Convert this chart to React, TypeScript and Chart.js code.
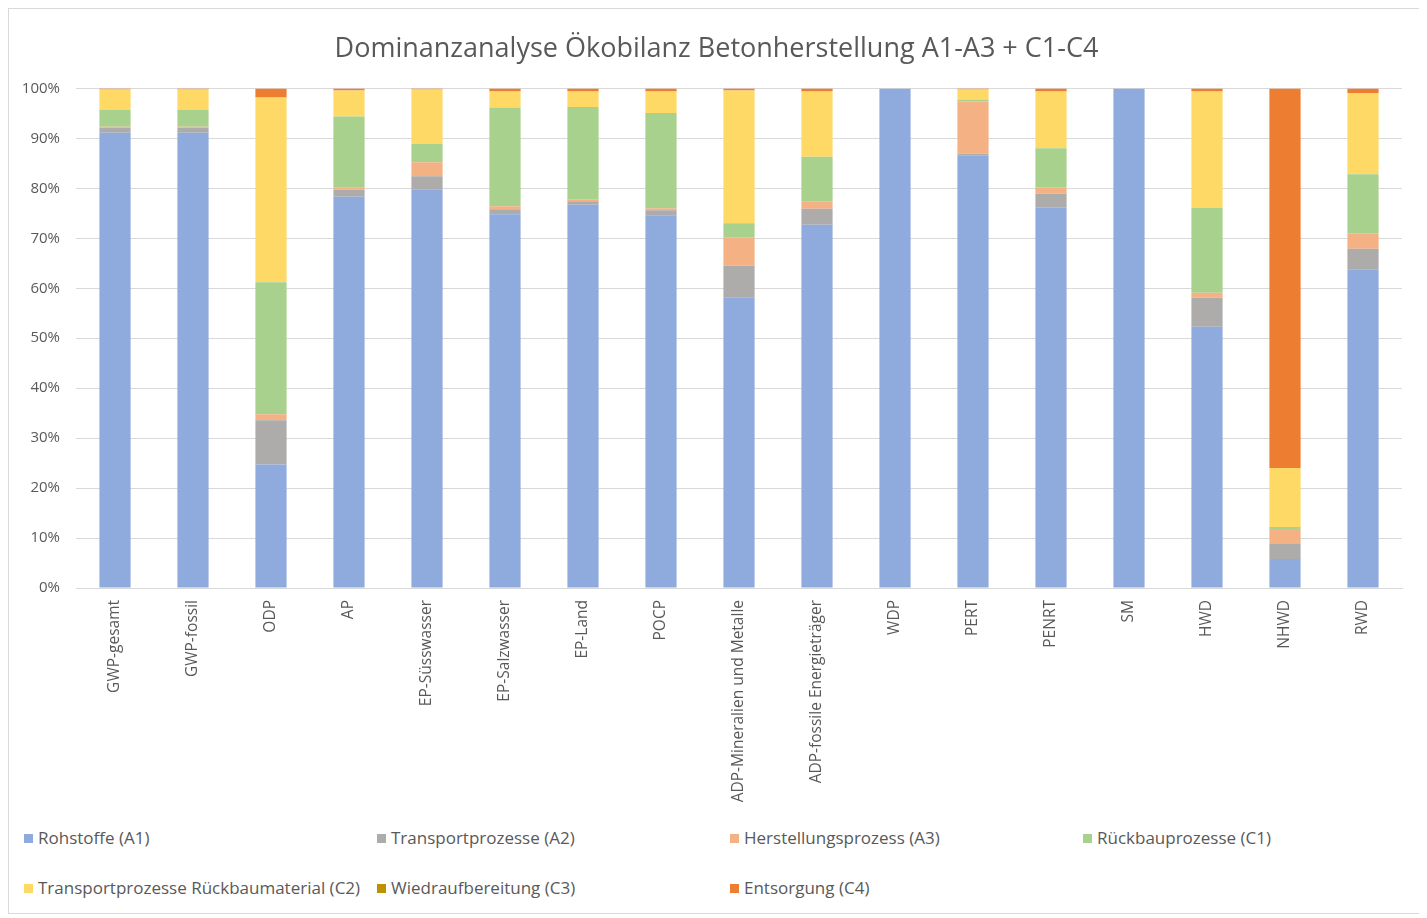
import React, { useEffect, useRef } from "react";
import { Chart, registerables } from "chart.js";
Chart.register(...registerables);

const categories = [
  "GWP-gesamt", "GWP-fossil", "ODP", "AP", "EP-Süsswasser", "EP-Salzwasser", "EP-Land", "POCP",
  "ADP-Mineralien und Metalle", "ADP-fossile Energieträger", "WDP", "PERT", "PENRT", "SM", "HWD", "NHWD", "RWD",
];
const rohstoffeA1 = [91.1, 91.1, 24.7, 78.3, 79.8, 74.8, 76.7, 74.6, 58.2, 72.7, 100, 86.6, 76.1, 100, 52.3, 5.8, 63.8];
const transportA2 = [1.0, 1.0, 8.9, 1.4, 2.6, 1.0, 0.7, 1.0, 6.3, 3.2, 0, 0.3, 2.8, 0, 5.8, 3.0, 4.1];
const herstellungA3 = [0.2, 0.2, 1.2, 0.4, 2.8, 0.6, 0.3, 0.4, 5.6, 1.5, 0, 10.5, 1.3, 0, 1.0, 3.0, 3.1];
const rueckbauC1 = [3.4, 3.4, 26.4, 14.3, 3.7, 19.8, 18.6, 19.1, 2.9, 8.9, 0, 0.4, 7.8, 0, 17.0, 0.4, 11.8];
const transportC2 = [4.1, 4.1, 37.0, 5.2, 10.9, 3.2, 3.1, 4.3, 26.6, 13.1, 0, 2.0, 11.4, 0, 23.3, 11.8, 16.3];
const wiederC3 = [0, 0, 0, 0, 0, 0, 0, 0, 0, 0, 0, 0, 0, 0, 0, 0, 0];
const entsorgungC4 = [0.2, 0.2, 1.8, 0.4, 0.2, 0.6, 0.6, 0.6, 0.4, 0.6, 0, 0.2, 0.6, 0, 0.6, 76.0, 0.9];
const yTicks = [0, 10, 20, 30, 40, 50, 60, 70, 80, 90, 100];

const seriesNames = [
  "Rohstoffe (A1)", "Transportprozesse (A2)", "Herstellungsprozess (A3)", "Rückbauprozesse (C1)",
  "Transportprozesse Rückbaumaterial (C2)", "Wiedraufbereitung (C3)", "Entsorgung (C4)",
];
const seriesData = [rohstoffeA1, transportA2, herstellungA3, rueckbauC1, transportC2, wiederC3, entsorgungC4];
const seriesColors = ["#8FAADC", "#AEABAB", "#F4B183", "#A9D18E", "#FFD966", "#BF9000", "#ED7D31"];

const FONT = "'Open Sans', 'Noto Sans', sans-serif";
const TEXT = "#595959";

export default function App() {
  const ref = useRef<HTMLCanvasElement | null>(null);
  useEffect(() => {
    if (!ref.current) return;
    const chart = new Chart(ref.current, {
      type: "bar",
      data: {
        labels: categories,
        datasets: seriesNames.map((n, i) => ({
          label: n,
          data: seriesData[i],
          backgroundColor: seriesColors[i],
          borderWidth: 0,
          barPercentage: 0.4,
          categoryPercentage: 1.0,
        })),
      },
      options: {
        responsive: false,
        animation: false,
        layout: { padding: { left: 11, right: 6, top: 0, bottom: 0 } },
        plugins: {
          legend: { display: false },
          tooltip: { enabled: false },
          title: {
            display: true,
            text: "Dominanzanalyse Ökobilanz Betonherstellung A1-A3 + C1-C4",
            color: TEXT,
            font: { family: FONT, size: 27, weight: "normal" },
            padding: { top: 24, bottom: 23 },
          },
        },
        scales: {
          x: {
            stacked: true,
            grid: { display: false, drawTicks: false },
            border: { display: true, color: "#D9D9D9", width: 1 },
            ticks: {
              color: TEXT,
              font: { family: FONT, size: 15.5 },
              minRotation: 90,
              maxRotation: 90,
              autoSkip: false,
              padding: 12,
            },
            afterFit: (s: any) => { s.height = 221; },
          },
          y: {
            stacked: true,
            min: 0,
            max: 100,
            afterBuildTicks: (s: any) => { s.ticks = yTicks.map((v) => ({ value: v })); },
            grid: { color: "#D9D9D9", lineWidth: 1, drawTicks: false },
            border: { display: false },
            ticks: {
              color: TEXT,
              font: { family: FONT, size: 15 },
              padding: 16,
              callback: (v: any) => v + "%",
            },
            afterFit: (s: any) => { s.width = 56; },
          },
          yRight: {
            type: "linear",
            position: "right",
            display: true,
            min: 0,
            max: 100,
            grid: { display: false, drawTicks: false },
            border: { display: false },
            ticks: { display: false },
            afterFit: (s: any) => { s.width = 11; },
          },
        },
      },
    });
    return () => chart.destroy();
  }, []);

  return (
    <div
      style={{
        position: "relative",
        width: 1410,
        height: 904,
        border: "1px solid #D9D9D9",
        background: "#fff",
        fontFamily: FONT,
      }}
    >
      <canvas ref={ref} width={1410} height={800} style={{ position: "absolute", left: 0, top: 0, width: 1410, height: 800 }} />
      {seriesNames.map((n, i) => {
        const col = i % 4;
        const row = Math.floor(i / 4);
        return (
          <div
            key={n}
            style={{
              position: "absolute",
              left: 15 + col * 353,
              top: 818 + row * 50,
              display: "flex",
              alignItems: "center",
              color: TEXT,
              fontSize: 17,
              whiteSpace: "nowrap",
              lineHeight: "22px",
            }}
          >
            <span style={{ display: "inline-block", width: 9, height: 9, background: seriesColors[i], marginRight: 5 }} />
            {n}
          </div>
        );
      })}
    </div>
  );
}
